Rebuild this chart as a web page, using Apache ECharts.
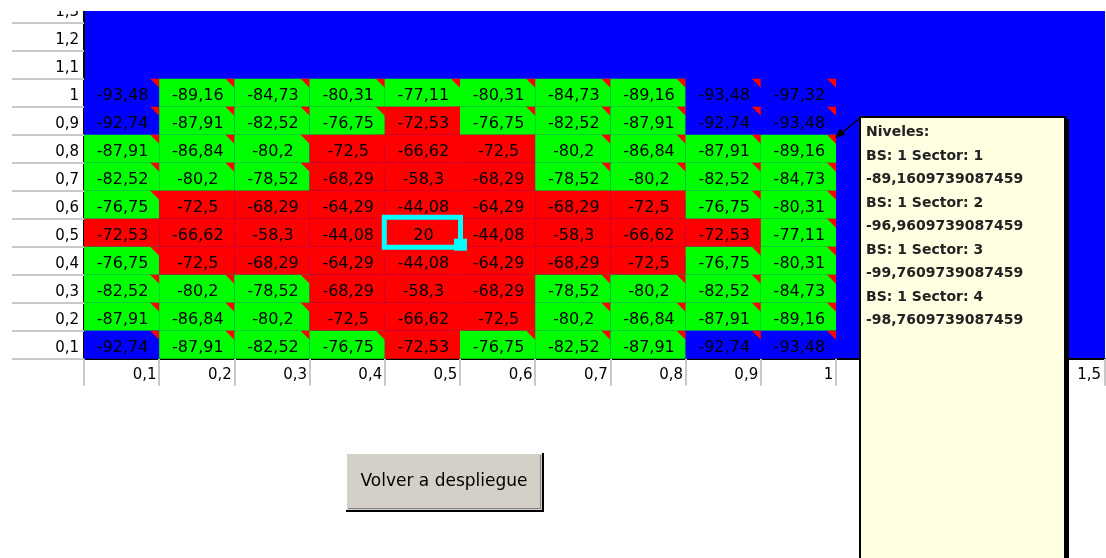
<!DOCTYPE html>
<html>
<head>
<meta charset="utf-8">
<script src="https://cdn.jsdelivr.net/npm/echarts@6/dist/echarts.min.js"></script>
<style>
html,body{margin:0;padding:0;background:#fff;overflow:hidden;}
#chart{width:1106px;height:558px;}
</style>
</head>
<body>
<div id="chart"></div>
<script>
// Column categories (x) of the level grid, and the extra empty columns to the right
const xCats = ['0,1','0,2','0,3','0,4','0,5','0,6','0,7','0,8','0,9','1'];
const xCatsExtra = ['1,1','1,2','1,3','1,4','1,5'];
// Row categories (y), bottom to top
const yCats = ['0,1','0,2','0,3','0,4','0,5','0,6','0,7','0,8','0,9','1','1,1','1,2','1,3'];

// Signal levels, one row per y value (listed from y = 1 down to y = 0,1), columns 0,1 .. 1
const row_1_0 = [-93.48, -89.16, -84.73, -80.31, -77.11, -80.31, -84.73, -89.16, -93.48, -97.32];
const row_0_9 = [-92.74, -87.91, -82.52, -76.75, -72.53, -76.75, -82.52, -87.91, -92.74, -93.48];
const row_0_8 = [-87.91, -86.84, -80.2, -72.5, -66.62, -72.5, -80.2, -86.84, -87.91, -89.16];
const row_0_7 = [-82.52, -80.2, -78.52, -68.29, -58.3, -68.29, -78.52, -80.2, -82.52, -84.73];
const row_0_6 = [-76.75, -72.5, -68.29, -64.29, -44.08, -64.29, -68.29, -72.5, -76.75, -80.31];
const row_0_5 = [-72.53, -66.62, -58.3, -44.08, 20, -44.08, -58.3, -66.62, -72.53, -77.11];
const row_0_4 = [-76.75, -72.5, -68.29, -64.29, -44.08, -64.29, -68.29, -72.5, -76.75, -80.31];
const row_0_3 = [-82.52, -80.2, -78.52, -68.29, -58.3, -68.29, -78.52, -80.2, -82.52, -84.73];
const row_0_2 = [-87.91, -86.84, -80.2, -72.5, -66.62, -72.5, -80.2, -86.84, -87.91, -89.16];
const row_0_1 = [-92.74, -87.91, -82.52, -76.75, -72.53, -76.75, -82.52, -87.91, -92.74, -93.48];
const rowLabelsTopDown = ['1','0,9','0,8','0,7','0,6','0,5','0,4','0,3','0,2','0,1'];

// Selected cell (x, y)
const selectedCell = ['0,5', '0,5'];

// Comment attached to a cell
const commentLines = [
  'Niveles:',
  'BS: 1 Sector: 1',
  '-89,1609739087459',
  'BS: 1 Sector: 2',
  '-96,9609739087459',
  'BS: 1 Sector: 3',
  '-99,7609739087459',
  'BS: 1 Sector: 4',
  '-98,7609739087459'
];
const buttonLabel = 'Volver a despliegue';

// ---------- build data ----------
const rowsTopDown = [row_1_0, row_0_9, row_0_8, row_0_7, row_0_6, row_0_5, row_0_4, row_0_3, row_0_2, row_0_1];
const cellData = [];
rowsTopDown.forEach(function (row, i) {
  const yi = yCats.indexOf(rowLabelsTopDown[i]);
  row.forEach(function (v, xi) { cellData.push([xi, yi, v]); });
});
const selData = [[xCats.indexOf(selectedCell[0]), yCats.indexOf(selectedCell[1])]];

function fmt(v) { return String(v).replace('.', ','); }

const FONT = '"DejaVu Sans", sans-serif';

function renderCell(params, api) {
  const xi = api.value(0), yi = api.value(1), v = api.value(2);
  const c = api.coord([xi, yi]);
  const s = api.size([1, 1]);
  const x0 = c[0] - s[0] / 2, y0 = c[1] - s[1] / 2;
  const t = 9;
  return {
    type: 'group',
    children: [
      { type: 'rect', shape: { x: x0, y: y0, width: s[0], height: s[1] }, style: { fill: api.visual('color') } },
      { type: 'polygon', shape: { points: [[x0 + s[0] - t, y0], [x0 + s[0], y0], [x0 + s[0], y0 + t]] }, style: { fill: '#ff0000' } },
      { type: 'text', style: { text: fmt(v), x: c[0] + 1, y: c[1] + 3, align: 'center', verticalAlign: 'middle', fill: '#000', font: '16px ' + FONT } }
    ]
  };
}

function renderSel(params, api) {
  const c = api.coord([api.value(0), api.value(1)]);
  const s = api.size([1, 1]);
  const x0 = c[0] - s[0] / 2 - 3, y0 = c[1] - s[1] / 2 - 4;
  const w = s[0] + 6, h = s[1] + 7;
  return {
    type: 'group',
    children: [
      { type: 'rect', shape: { x: x0 + 2.5, y: y0 + 2.5, width: w - 5, height: h - 5 }, style: { fill: 'none', stroke: '#00ffff', lineWidth: 5 } },
      { type: 'rect', shape: { x: x0 + w - 9, y: y0 + h - 11, width: 13, height: 12 }, style: { fill: '#00ffff' } }
    ]
  };
}

function axisLabelX(boxWidth) {
  return {
    interval: 0, color: '#000', fontSize: 15, fontFamily: FONT, margin: 9,
    formatter: '{a|{value}}',
    rich: { a: { width: boxWidth, align: 'right', fontSize: 15, fontFamily: FONT, color: '#000' } }
  };
}

const chart = echarts.init(document.getElementById('chart'), null, { renderer: 'canvas' });
chart.setOption({
  animation: false,
  backgroundColor: '#ffffff',
  textStyle: { fontFamily: FONT },
  grid: [
    { left: 84, top: -5.3, width: 752, height: 364, show: true, backgroundColor: '#0000ff', borderWidth: 0, outerBoundsMode: 'none', containLabel: false },
    { left: 836, top: -5.3, width: 269, height: 364, show: true, backgroundColor: '#0000ff', borderWidth: 0, outerBoundsMode: 'none', containLabel: false }
  ],
  xAxis: [
    { type: 'category', gridIndex: 0, data: xCats, position: 'bottom',
      axisLine: { lineStyle: { color: '#000', width: 2 } },
      axisTick: { show: true, interval: 0, length: 27, lineStyle: { color: '#c8c8c8', width: 2 } },
      axisLabel: axisLabelX(70), splitLine: { show: false } },
    { type: 'category', gridIndex: 1, data: xCatsExtra, position: 'bottom',
      axisLine: { lineStyle: { color: '#000', width: 2 } },
      axisTick: { show: true, interval: 0, length: 27, lineStyle: { color: '#c8c8c8', width: 2 } },
      axisLabel: axisLabelX(46), splitLine: { show: false } }
  ],
  yAxis: [
    { type: 'category', gridIndex: 0, data: yCats,
      axisLine: { lineStyle: { color: '#000', width: 2 } },
      axisTick: { show: true, interval: 0, length: 72, lineStyle: { color: '#c8c8c8', width: 2 } },
      axisLabel: { interval: 0, color: '#000', fontSize: 15, fontFamily: FONT, margin: 5,
        formatter: '{a|{value}}',
        rich: { a: { fontSize: 15, fontFamily: FONT, color: '#000', padding: [7, 0, 0, 0] } } },
      splitLine: { show: false } },
    { type: 'category', gridIndex: 1, data: yCats, show: false }
  ],
  visualMap: {
    type: 'piecewise', show: false, seriesIndex: 0, dimension: 2,
    pieces: [
      { lt: -90, color: '#0000ff' },
      { gte: -90, lt: -75, color: '#00ff00' },
      { gte: -75, color: '#ff0000' }
    ]
  },
  series: [
    { type: 'custom', xAxisIndex: 0, yAxisIndex: 0, data: cellData, renderItem: renderCell, z: 2 },
    { type: 'custom', xAxisIndex: 0, yAxisIndex: 0, data: selData, renderItem: renderSel, z: 3 }
  ],
  graphic: [
    // cropped top edge of the screenshot
    { type: 'rect', left: 0, top: 0, shape: { width: 1106, height: 11 }, style: { fill: '#ffffff' }, z: 100 },
    // comment arrow
    { type: 'line', shape: { x1: 860, y1: 118, x2: 841, y2: 133.5 }, style: { stroke: '#000', lineWidth: 1.5 }, z: 50 },
    { type: 'polygon', shape: { points: [[835, 138], [845.3, 134.7], [840.1, 128.5]] }, style: { fill: '#000' }, z: 50 },
    // comment box
    { type: 'rect', shape: { x: 1064, y: 119, width: 5, height: 440 }, style: { fill: '#000' }, z: 50 },
    { type: 'rect', shape: { x: 860, y: 117, width: 205, height: 460 }, style: { fill: '#ffffe1', stroke: '#000', lineWidth: 2 }, z: 51 },
    { type: 'text', style: { x: 866, y: 121, text: commentLines.join('\n'), lineHeight: 23.5, font: 'bold 14px ' + FONT, fill: '#222', verticalAlign: 'top' }, z: 52 },
    // button
    { type: 'rect', shape: { x: 346, y: 453, width: 197, height: 58 }, style: { fill: '#d4d0c8' }, z: 50 },
    { type: 'polyline', shape: { points: [[346.5, 511], [346.5, 453.5], [543, 453.5]] }, style: { stroke: '#ffffff', lineWidth: 1 }, z: 51 },
    { type: 'polyline', shape: { points: [[346, 511], [543, 511], [543, 453]] }, style: { stroke: '#000', lineWidth: 2 }, z: 51 },
    { type: 'polyline', shape: { points: [[348, 508.5], [540.5, 508.5], [540.5, 455]] }, style: { stroke: '#808080', lineWidth: 1 }, z: 51 },
    { type: 'text', style: { x: 444, y: 482, text: buttonLabel, align: 'center', verticalAlign: 'middle', font: '17px ' + FONT, fill: '#000' }, z: 52 }
  ]
});
</script>
</body>
</html>
